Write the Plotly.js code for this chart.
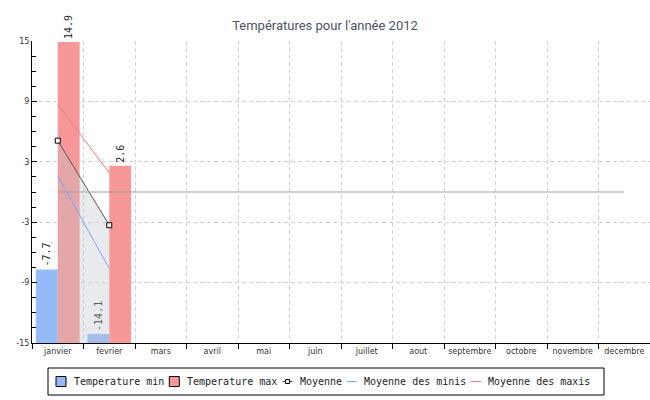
<!DOCTYPE html>
<html>
<head>
<meta charset="utf-8">
<script src="https://cdn.plot.ly/plotly-3.0.1.min.js"></script>
<style>html,body{margin:0;padding:0;background:#fff;}#chart{width:650px;height:400px;}</style>
</head>
<body>
<div id="chart"></div>
<script>
// ---- data ----
var months = ['janvier','fevrier','mars','avril','mai','juin','juillet','aout','septembre','octobre','novembre','decembre'];
var tempMin = [-7.7, -14.1];
var tempMax = [14.9, 2.6];
var moyenne = [5.1, -3.3];
var moyenneMinis = [1.6, -7.6];
var moyenneMaxis = [8.7, 1.9];
var threshold = 0;
var yTicks = [-15, -9, -3, 3, 9, 15];
var yMin = -15, yMax = 15;

// ---- styles ----
var cMin = '#94bbf8', cMax = '#f79797';
var cMoy = '#555555', cMinis = '#7aa6f2', cMaxis = '#f27a7a';

var xData = months.slice(0, tempMin.length);
function fmt(v){ return String(v); }

var traces = [
  {type:'bar', name:'Temperature min', x:xData, base:yMin,
   y:tempMin.map(function(v){return v - yMin;}),
   text:tempMin.map(fmt), textposition:'outside', textangle:-90, cliponaxis:false,
   constraintext:'none', outsidetextfont:{family:'DejaVu Sans Mono', size:10, color:'#222'},
   marker:{color:cMin, line:{width:0}}, hoverinfo:'skip', showlegend:false},
  {type:'bar', name:'Temperature max', x:xData, base:yMin,
   y:tempMax.map(function(v){return v - yMin;}),
   text:tempMax.map(fmt), textposition:'outside', textangle:-90, cliponaxis:false,
   constraintext:'none', outsidetextfont:{family:'DejaVu Sans Mono', size:10, color:'#222'},
   marker:{color:cMax, line:{width:0}}, hoverinfo:'skip', showlegend:false},
  {type:'scatter', mode:'lines', x:xData, y:moyenne.map(function(){return yMin;}),
   line:{width:0, color:'rgba(0,0,0,0)'}, hoverinfo:'skip', showlegend:false},
  {type:'scatter', mode:'lines+markers', name:'Moyenne', x:xData, y:moyenne,
   fill:'tonexty', fillcolor:'rgba(192,197,206,0.36)',
   line:{color:cMoy, width:1}, marker:{symbol:'square', size:5, color:'#ffffff', line:{color:'#000', width:1}},
   hoverinfo:'skip', showlegend:false},
  {type:'scatter', mode:'lines', name:'Moyenne des minis', x:xData, y:moyenneMinis,
   line:{color:cMinis, width:1}, hoverinfo:'skip', showlegend:false},
  {type:'scatter', mode:'lines', name:'Moyenne des maxis', x:xData, y:moyenneMaxis,
   line:{color:cMaxis, width:1}, hoverinfo:'skip', showlegend:false}
];

// plot-area geometry (px) for paper conversions of the hand-drawn legend
var L = 32, T = 41, W = 618, H = 302;
function px(x){ return (x - L) / W; }
function py(y){ return (T + H - y) / H; }

var shapes = [
  {type:'line', xref:'x', yref:'y', x0:0, x1:months.length-1, y0:threshold, y1:threshold,
   line:{color:'#a0a0a0', width:1.2}, layer:'above'}
];
var annotations = [];

// legend
var legendItems = [
  {name:'Temperature min', kind:'box', color:cMin},
  {name:'Temperature max', kind:'box', color:cMax},
  {name:'Moyenne', kind:'marker', color:cMoy},
  {name:'Moyenne des minis', kind:'line', color:cMinis},
  {name:'Moyenne des maxis', kind:'line', color:cMaxis}
];
shapes.push({type:'rect', xref:'paper', yref:'paper', x0:px(48), x1:px(604), y0:py(368), y1:py(395),
  line:{color:'#000', width:1}, fillcolor:'rgba(0,0,0,0)'});
var lx = 56, cy = 381.5, charW = 6.02;
legendItems.forEach(function(it){
  var textX;
  if (it.kind === 'box') {
    shapes.push({type:'rect', xref:'paper', yref:'paper', x0:px(lx), x1:px(lx+10), y0:py(cy+5), y1:py(cy-5),
      line:{color:'#000', width:1}, fillcolor:it.color});
    textX = lx + 17;
  } else {
    shapes.push({type:'line', xref:'paper', yref:'paper', x0:px(lx), x1:px(lx+10), y0:py(cy), y1:py(cy),
      line:{color:it.color, width:1}});
    if (it.kind === 'marker') {
      shapes.push({type:'rect', xref:'paper', yref:'paper', x0:px(lx+3), x1:px(lx+7), y0:py(cy+2), y1:py(cy-2),
        line:{color:'#000', width:1}, fillcolor:'#fff'});
    }
    textX = lx + 16;
  }
  annotations.push({xref:'paper', yref:'paper', x:px(textX), y:py(cy), xanchor:'left', yanchor:'middle',
    showarrow:false, text:it.name, borderpad:0,
    font:{family:'DejaVu Sans Mono', size:10, color:'#222'}});
  lx = textX + it.name.length * charW + 6;
});

var layout = {
  width:650, height:400,
  margin:{l:L, r:0, t:T, b:400-T-H},
  paper_bgcolor:'#fff', plot_bgcolor:'#fff',
  title:{text:"Températures pour l'année 2012", x:0.5, xref:'container', xanchor:'center',
         y:1-25/400, yref:'container', yanchor:'middle',
         font:{family:'Roboto', size:13, color:'#4b5366'}},
  barmode:'group', bargap:0.15, bargroupgap:0,
  showlegend:false,
  xaxis:{type:'category', categoryorder:'array', categoryarray:months, range:[-0.5, months.length-0.5],
         tickson:'boundaries', ticks:'outside', ticklen:5, tickcolor:'#000', tickangle:0,
         showline:true, linecolor:'#000', linewidth:1,
         showgrid:true, gridcolor:'#d2d2d2', griddash:'4px,3px', gridwidth:1,
         tickfont:{family:'DejaVu Sans', size:8, color:'#333'}, fixedrange:true},
  yaxis:{range:[yMin, yMax], tickmode:'array', tickvals:yTicks, ticktext:yTicks.map(String),
         ticks:'inside', ticklen:5, tickcolor:'#000',
         minor:{dtick:1.5, tick0:yMin, ticks:'inside', ticklen:4, tickcolor:'#000', showgrid:false},
         showline:true, linecolor:'#000', linewidth:1, zeroline:false,
         showgrid:true, gridcolor:'#d2d2d2', griddash:'4px,3px', gridwidth:1,
         tickfont:{family:'DejaVu Sans', size:8, color:'#333'}, fixedrange:true},
  shapes:shapes,
  annotations:annotations
};

Plotly.newPlot('chart', traces, layout, {displayModeBar:false, staticPlot:true});
</script>
</body>
</html>
